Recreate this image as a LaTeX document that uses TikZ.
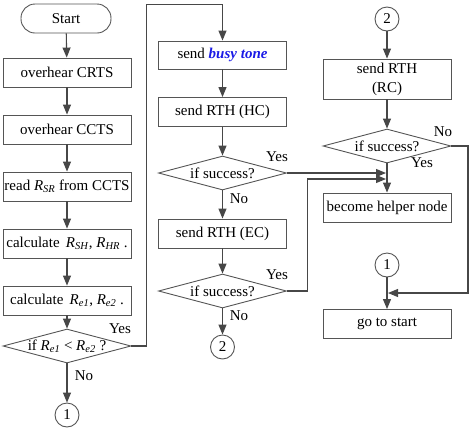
\documentclass[tikz,border=0pt]{standalone}
\usepackage{fontspec}
\setmainfont{Liberation Serif}
\usetikzlibrary{arrows.meta,shapes.geometric}
\definecolor{ln}{HTML}{474747}
\definecolor{bd}{HTML}{555555}
\definecolor{bt}{HTML}{1A1AE6}
\newcommand\Rv[1]{\textit{R}\textsubscript{\textit{#1}}}
\begin{document}
\begin{tikzpicture}[x=1pt,y=-1pt,
  every node/.style={font=\fontsize{15}{19}\selectfont, text=black},
  procbox/.style={draw=bd, line width=0.9pt, minimum width=128pt, minimum height=29pt, inner sep=0pt, align=center},
  termbox/.style={draw=bd, line width=0.9pt, rounded corners=14pt, minimum width=90pt, minimum height=29pt, inner sep=0pt},
  dia/.style={draw=bd, line width=0.9pt, diamond, minimum width=128pt, minimum height=34pt, inner sep=0pt},
  conncirc/.style={draw=bd, line width=0.9pt, circle, minimum size=24pt, inner sep=0pt},
  conn/.style={draw=ln, line width=1.1pt, -{Triangle[length=10pt,width=8pt]}},
  plain/.style={draw=ln, line width=1.1pt},
  lbl/.style={inner sep=0pt}]
\useasboundingbox (0,0) rectangle (471,429);
% left column
\node[termbox] (start) at (66,18.5) {Start};
\node[procbox] (crts) at (67,72.5) {overhear CRTS};
\node[procbox] (ccts) at (67,129.5) {overhear CCTS};
\node[procbox] (read) at (67,186.5) {read \Rv{SR} from CCTS};
\node[procbox] (calc1) at (67,243.5) {calculate\, \Rv{SH}, \Rv{HR} .};
\node[procbox] (calc2) at (67,300.5) {calculate\, \Rv{e1}, \Rv{e2} .};
\node[dia] (d0) at (67,346) {};
\node at (d0) {if \Rv{e1} < \Rv{e2} ?};
\node[conncirc] (c1l) at (67,415) {1};
\node[lbl] (y0) at (120,329) {Yes};
\node[lbl] (n0) at (84,376) {No};
% middle column
\node[procbox, minimum height=28pt] (busy) at (222.5,55) {send \textcolor{bt}{\textbf{\textit{busy tone}}}};
\node[procbox] (hc) at (222.5,112) {send RTH (HC)};
\node[dia] (d1) at (222.5,173) {};
\node at (d1) {if success?};
\node[procbox] (ec) at (222.5,233.5) {send RTH (EC)};
\node[dia] (d2) at (222.5,291) {};
\node at (d2) {if success?};
\node[conncirc] (c2m) at (222.5,347) {2};
\node[lbl] (y1) at (277,157) {Yes};
\node[lbl] (n1) at (239,199) {No};
\node[lbl] (y2) at (277,275) {Yes};
\node[lbl] (n2) at (239,316) {No};
% right column
\node[conncirc] (c2r) at (387,19) {2};
\node[procbox, minimum height=40pt] (rc) at (387,79) {send RTH\\(RC)};
\node[dia] (d3) at (387,146) {};
\node at (d3) {if success?};
\node[procbox] (helper) at (387,207.5) {become helper node};
\node[conncirc] (c1r) at (387,265) {1};
\node[procbox] (goto) at (387,324) {go to start};
\node[lbl] (n3) at (443,132) {No};
\node[lbl] (y3) at (422,163) {Yes};
% helper coordinates
\coordinate (lt) at (146.5,4.5);
\coordinate (j1) at (386,173);
\coordinate (v2) at (307.5,179);
\coordinate (j2) at (386,179);
\coordinate (nr) at (468,293);
\coordinate (j3) at (388,293);
% connectors
\draw[conn] (start) -- (crts);
\draw[conn] (crts) -- (ccts);
\draw[conn] (ccts) -- (read);
\draw[conn] (read) -- (calc1);
\draw[conn] (calc1) -- (calc2);
\draw[conn] (calc2) -- (d0.north);
\draw[conn] (d0.south) -- (c1l);
\draw[conn] (d0.east) -| (lt) -| (busy.north);
\draw[conn] (busy) -- (hc);
\draw[conn] (hc) -- (d1.north);
\draw[conn] (d1.south) -- (ec);
\draw[conn] (ec) -- (d2.north);
\draw[conn] (d2.south) -- (c2m);
\draw[conn] (d1.east) -- (j1);
\draw[conn] (d2.east) -| (v2) -- (j2);
\draw[conn] (c2r) -- (rc);
\draw[conn] (rc) -- (d3.north);
\draw[conn] (d3.south) -- (helper);
\draw[conn] (d3.east) -| (nr) -- (j3);
\draw[conn] (c1r) -- (goto);
\end{tikzpicture}
\end{document}
